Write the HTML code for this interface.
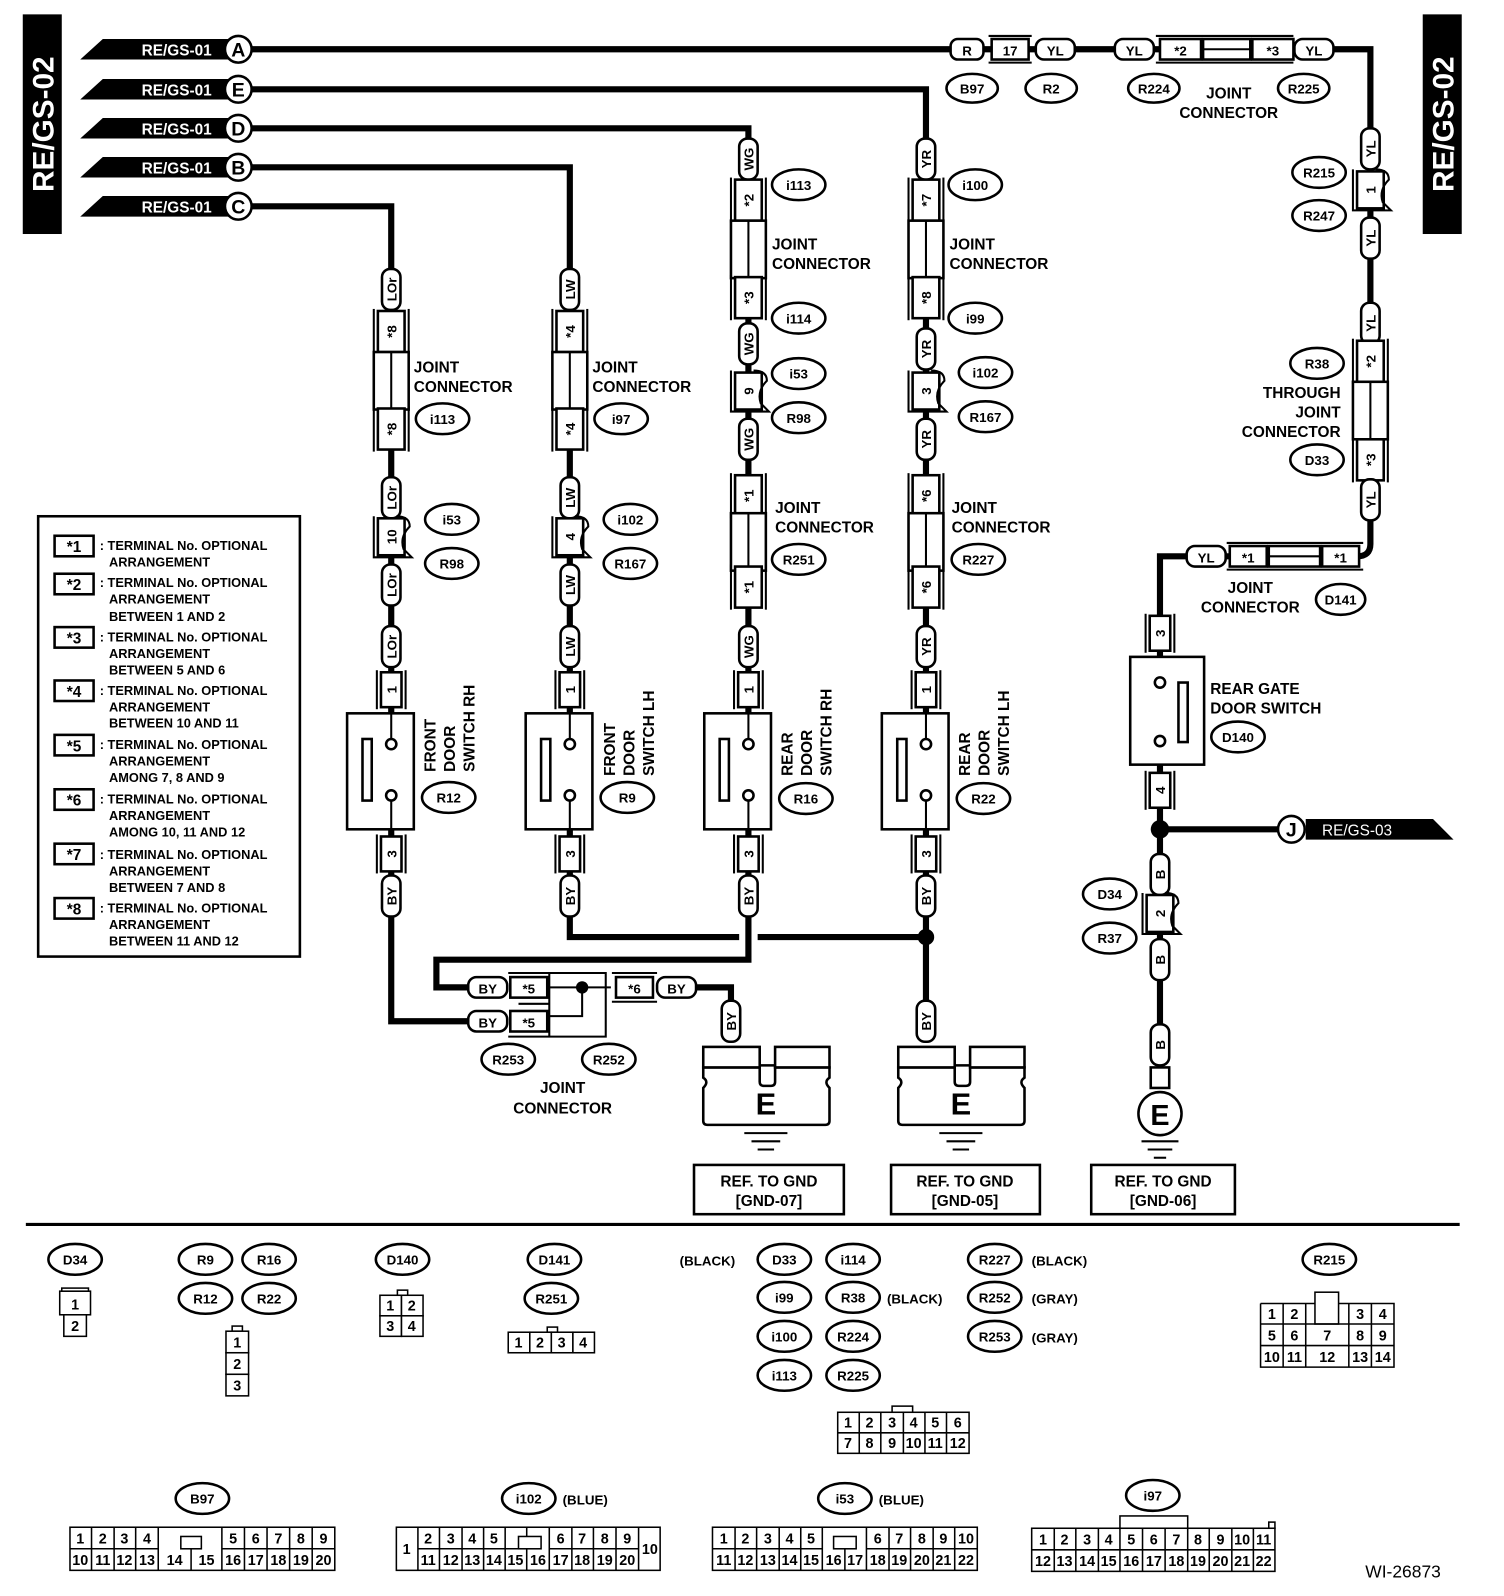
<!DOCTYPE html>
<html><head><meta charset="utf-8"><style>
html,body{margin:0;padding:0;background:#fff}
svg{display:block}
text{font-family:"Liberation Sans",sans-serif;font-weight:bold;fill:#000}
.w{stroke:#000;stroke-width:6;fill:none}
.b{stroke:#000;stroke-width:2.5;fill:#fff}
.t{stroke:#000;stroke-width:2;fill:none}
.l{font-size:15px}
.s{font-size:13px}
.m{text-anchor:middle}
.c{font-size:13px;font-weight:normal;text-anchor:middle}
</style></head><body>
<svg width="1504" height="1596" viewBox="0 0 1465 1555" xmlns="http://www.w3.org/2000/svg">
<defs>
<g id="pill"><rect x="-9" y="-20" width="18" height="40" rx="8" class="b"/></g>
<g id="hpill"><rect x="-19" y="-10" width="38" height="20" rx="8" class="b"/></g>
<g id="star"><rect x="-13" y="-20" width="26" height="40" class="b"/><line x1="-17" y1="-22" x2="-17" y2="22" class="t" stroke-width="3"/><line x1="17" y1="-22" x2="17" y2="22" class="t" stroke-width="3"/></g>
<g id="jbody"><rect x="-17" y="-28" width="34" height="56" class="b"/><line x1="0" y1="-28" x2="0" y2="28" class="t"/></g>
<g id="num"><rect x="-10" y="-17" width="20" height="34" class="b"/><line x1="-14" y1="-19" x2="-14" y2="19" class="t" stroke-width="3"/><line x1="14" y1="-19" x2="14" y2="19" class="t" stroke-width="3"/></g>
<g id="wavy"><rect x="-13" y="-18" width="26" height="36" class="b"/><path d="M-17,-20 V20 H20 L12,12 Q8,0 18,-10 Q18,-20 5,-20" class="t" stroke-width="3"/></g>
<g id="sw"><rect x="-43" y="0" width="65" height="113" class="b"/><rect x="-28" y="25" width="9" height="60" class="b" stroke-width="2"/><circle cx="0" cy="30" r="5" class="b" stroke-width="2"/><circle cx="0" cy="80" r="5" class="b" stroke-width="2"/><line x1="0" y1="0" x2="0" y2="25" class="t"/><line x1="0" y1="85" x2="0" y2="113" class="t"/></g>
<g id="gnd"><path d="M0,20 V30 Q6,34 0,40 V72 Q0,76 4,76 H119 Q123,76 123,72 V40 Q117,34 123,30 V20 Z" class="b"/><path d="M55,18 V34 Q55,38 59,38 H66 Q70,38 70,34 V18 Z" fill="#fff" stroke="#000" stroke-width="2.5"/><rect x="0" y="0" width="55" height="20" class="b"/><rect x="70" y="0" width="53" height="20" class="b"/><text x="61" y="66" style="font-size:30px" class="m">E</text><line x1="40" y1="84" x2="82" y2="84" class="t" stroke-width="3"/><line x1="47" y1="92" x2="75" y2="92" class="t" stroke-width="3"/><line x1="53" y1="100" x2="69" y2="100" class="t" stroke-width="3"/></g>
<g id="flag"><polygon points="0,10 22,-10 145,-10 145,10" fill="#000"/></g>
</defs>

<rect x="22" y="14" width="38" height="214" fill="#000"/>
<text transform="translate(52,121) rotate(-90)" class="m" style="font-size:29px;fill:#fff">RE/GS-02</text>
<rect x="1386" y="14" width="38" height="214" fill="#000"/>
<text transform="translate(1416,121) rotate(-90)" class="m" style="font-size:29px;fill:#fff">RE/GS-02</text>

<path class="w" d="M245,48 H1335 V530 Q1335,542 1322,542 H1130 V1060"/>
<path class="w" d="M245,87 H902 V995"/>
<path class="w" d="M245,125 H729 V935 H425 V962 H455"/>
<path class="w" d="M245,163 H555 V913 H720 M738,913 H902"/>
<path class="w" d="M245,201 H381 V995 H455"/>
<path class="w" d="M678,962 H712 V1010"/>
<path class="w" d="M1130,808 H1258"/>
<circle cx="902" cy="913" r="8"/>
<circle cx="1130" cy="808" r="9"/>

<g transform="translate(78,48)"><use href="#flag"/></g>
<g transform="translate(78,87)"><use href="#flag"/></g>
<g transform="translate(78,125)"><use href="#flag"/></g>
<g transform="translate(78,163)"><use href="#flag"/></g>
<g transform="translate(78,201)"><use href="#flag"/></g>
<g class="l" style="font-size:15px;font-weight:normal">
<text x="172" y="54" class="m" style="fill:#fff">RE/GS-01</text>
<text x="172" y="93" class="m" style="fill:#fff">RE/GS-01</text>
<text x="172" y="131" class="m" style="fill:#fff">RE/GS-01</text>
<text x="172" y="169" class="m" style="fill:#fff">RE/GS-01</text>
<text x="172" y="207" class="m" style="fill:#fff">RE/GS-01</text>
</g>
<g>
<circle cx="232" cy="48" r="13" class="b" stroke-width="4"/><text x="232" y="55" class="m" style="font-size:19px">A</text>
<circle cx="232" cy="87" r="13" class="b" stroke-width="4"/><text x="232" y="94" class="m" style="font-size:19px">E</text>
<circle cx="232" cy="125" r="13" class="b" stroke-width="4"/><text x="232" y="132" class="m" style="font-size:19px">D</text>
<circle cx="232" cy="163" r="13" class="b" stroke-width="4"/><text x="232" y="170" class="m" style="font-size:19px">B</text>
<circle cx="232" cy="201" r="13" class="b" stroke-width="4"/><text x="232" y="208" class="m" style="font-size:19px">C</text>
</g>

<g transform="translate(942,48)"><rect x="-16" y="-10" width="32" height="20" rx="7" class="b"/></g><text x="942" y="54" class="s m">R</text>
<rect x="966" y="38" width="36" height="20" class="b"/><line x1="963" y1="35" x2="1005" y2="35" class="t" stroke-width="3"/><line x1="963" y1="61" x2="1005" y2="61" class="t" stroke-width="3"/><text x="984" y="54" class="s m">17</text>
<g transform="translate(1028,48)"><use href="#hpill"/></g><text x="1028" y="54" class="s m">YL</text>
<g transform="translate(1105,48)"><use href="#hpill"/></g><text x="1105" y="54" class="s m">YL</text>
<rect x="1130" y="38" width="40" height="20" class="b"/><line x1="1126" y1="35" x2="1260" y2="35" class="t" stroke-width="3"/><line x1="1126" y1="61" x2="1260" y2="61" class="t" stroke-width="3"/><rect x="1172" y="38" width="46" height="20" class="b"/><line x1="1172" y1="48" x2="1218" y2="48" class="t"/><text x="1150" y="54" class="s m">*2</text>
<rect x="1220" y="38" width="40" height="20" class="b"/><text x="1240" y="54" class="s m">*3</text>
<g transform="translate(1280,48)"><use href="#hpill"/></g><text x="1280" y="54" class="s m">YL</text>
<ellipse cx="947" cy="86" rx="25" ry="14" class="b"/><text x="947" y="91" class="s m">B97</text>
<ellipse cx="1024" cy="86" rx="25" ry="14" class="b"/><text x="1024" y="91" class="s m">R2</text>
<ellipse cx="1124" cy="86" rx="25" ry="14" class="b"/><text x="1124" y="91" class="s m">R224</text>
<ellipse cx="1270" cy="86" rx="25" ry="14" class="b"/><text x="1270" y="91" class="s m">R225</text>
<text x="1197" y="96" class="l m">JOINT</text><text x="1197" y="115" class="l m">CONNECTOR</text>

<g transform="translate(381,0)">
<use href="#pill" y="282"/><use href="#star" y="323"/><use href="#jbody" y="371"/><use href="#star" y="418"/>
<use href="#pill" y="485"/><use href="#wavy" y="523"/><use href="#pill" y="570"/><use href="#pill" y="630"/><use href="#num" y="672"/>
<use href="#sw" y="695"/><use href="#num" y="832"/><use href="#pill" y="873"/>
<g class="s m"><text transform="translate(5,282) rotate(-90)">LOr</text><text transform="translate(5,323) rotate(-90)">*8</text><text transform="translate(5,418) rotate(-90)">*8</text><text transform="translate(5,485) rotate(-90)">LOr</text><text transform="translate(5,523) rotate(-90)">10</text><text transform="translate(5,570) rotate(-90)">LOr</text><text transform="translate(5,630) rotate(-90)">LOr</text><text transform="translate(5,672) rotate(-90)">1</text><text transform="translate(5,832) rotate(-90)">3</text><text transform="translate(5,873) rotate(-90)">BY</text></g>
</g>
<text x="403" y="363" class="l">JOINT</text><text x="403" y="382" class="l">CONNECTOR</text>
<ellipse cx="431" cy="408" rx="26" ry="15" class="b"/><text x="431" y="413" class="s m">i113</text>
<ellipse cx="440" cy="506" rx="26" ry="15" class="b"/><text x="440" y="511" class="s m">i53</text>
<ellipse cx="440" cy="549" rx="26" ry="15" class="b"/><text x="440" y="554" class="s m">R98</text>
<text transform="translate(424,752) rotate(-90)" class="l">FRONT</text><text transform="translate(443,752) rotate(-90)" class="l">DOOR</text><text transform="translate(462,752) rotate(-90)" class="l">SWITCH RH</text>
<ellipse cx="437" cy="777" rx="26" ry="15" class="b"/><text x="437" y="782" class="s m">R12</text>

<g transform="translate(555,0)">
<use href="#pill" y="282"/><use href="#star" y="323"/><use href="#jbody" y="371"/><use href="#star" y="418"/>
<use href="#pill" y="485"/><use href="#wavy" y="523"/><use href="#pill" y="570"/><use href="#pill" y="630"/><use href="#num" y="672"/>
<use href="#sw" y="695"/><use href="#num" y="832"/><use href="#pill" y="873"/>
<g class="s m"><text transform="translate(5,282) rotate(-90)">LW</text><text transform="translate(5,323) rotate(-90)">*4</text><text transform="translate(5,418) rotate(-90)">*4</text><text transform="translate(5,485) rotate(-90)">LW</text><text transform="translate(5,523) rotate(-90)">4</text><text transform="translate(5,570) rotate(-90)">LW</text><text transform="translate(5,630) rotate(-90)">LW</text><text transform="translate(5,672) rotate(-90)">1</text><text transform="translate(5,832) rotate(-90)">3</text><text transform="translate(5,873) rotate(-90)">BY</text></g>
</g>
<text x="577" y="363" class="l">JOINT</text><text x="577" y="382" class="l">CONNECTOR</text>
<ellipse cx="605" cy="408" rx="26" ry="15" class="b"/><text x="605" y="413" class="s m">i97</text>
<ellipse cx="614" cy="506" rx="26" ry="15" class="b"/><text x="614" y="511" class="s m">i102</text>
<ellipse cx="614" cy="549" rx="26" ry="15" class="b"/><text x="614" y="554" class="s m">R167</text>
<text transform="translate(599,756) rotate(-90)" class="l">FRONT</text><text transform="translate(618,756) rotate(-90)" class="l">DOOR</text><text transform="translate(637,756) rotate(-90)" class="l">SWITCH LH</text>
<ellipse cx="611" cy="777" rx="26" ry="15" class="b"/><text x="611" y="782" class="s m">R9</text>

<g transform="translate(729,0)">
<use href="#pill" y="155"/><use href="#star" y="195"/><use href="#jbody" y="243"/><use href="#star" y="290"/>
<use href="#pill" y="335"/><use href="#wavy" y="381"/><use href="#pill" y="428"/>
<use href="#star" y="483"/><use href="#jbody" y="528"/><use href="#star" y="572"/>
<use href="#pill" y="630"/><use href="#num" y="672"/>
<use href="#sw" y="695"/><use href="#num" y="832"/><use href="#pill" y="873"/>
<g class="s m"><text transform="translate(5,155) rotate(-90)">WG</text><text transform="translate(5,195) rotate(-90)">*2</text><text transform="translate(5,290) rotate(-90)">*3</text><text transform="translate(5,335) rotate(-90)">WG</text><text transform="translate(5,381) rotate(-90)">9</text><text transform="translate(5,428) rotate(-90)">WG</text><text transform="translate(5,483) rotate(-90)">*1</text><text transform="translate(5,572) rotate(-90)">*1</text><text transform="translate(5,630) rotate(-90)">WG</text><text transform="translate(5,672) rotate(-90)">1</text><text transform="translate(5,832) rotate(-90)">3</text><text transform="translate(5,873) rotate(-90)">BY</text></g>
</g>
<ellipse cx="778" cy="180" rx="26" ry="15" class="b"/><text x="778" y="185" class="s m">i113</text>
<text x="752" y="243" class="l">JOINT</text><text x="752" y="262" class="l">CONNECTOR</text>
<ellipse cx="778" cy="310" rx="26" ry="15" class="b"/><text x="778" y="315" class="s m">i114</text>
<ellipse cx="778" cy="364" rx="26" ry="15" class="b"/><text x="778" y="369" class="s m">i53</text>
<ellipse cx="778" cy="407" rx="26" ry="15" class="b"/><text x="778" y="412" class="s m">R98</text>
<text x="755" y="500" class="l">JOINT</text><text x="755" y="519" class="l">CONNECTOR</text>
<ellipse cx="778" cy="545" rx="26" ry="15" class="b"/><text x="778" y="550" class="s m">R251</text>
<text transform="translate(772,756) rotate(-90)" class="l">REAR</text><text transform="translate(791,756) rotate(-90)" class="l">DOOR</text><text transform="translate(810,756) rotate(-90)" class="l">SWITCH RH</text>
<ellipse cx="785" cy="778" rx="26" ry="15" class="b"/><text x="785" y="783" class="s m">R16</text>

<g transform="translate(902,0)">
<use href="#pill" y="155"/><use href="#star" y="195"/><use href="#jbody" y="243"/><use href="#star" y="290"/>
<use href="#pill" y="340"/><use href="#wavy" y="381"/><use href="#pill" y="428"/>
<use href="#star" y="483"/><use href="#jbody" y="528"/><use href="#star" y="572"/>
<use href="#pill" y="630"/><use href="#num" y="672"/>
<use href="#sw" y="695"/><use href="#num" y="832"/><use href="#pill" y="873"/><use href="#pill" y="995"/>
<g class="s m"><text transform="translate(5,155) rotate(-90)">YR</text><text transform="translate(5,195) rotate(-90)">*7</text><text transform="translate(5,290) rotate(-90)">*8</text><text transform="translate(5,340) rotate(-90)">YR</text><text transform="translate(5,381) rotate(-90)">3</text><text transform="translate(5,428) rotate(-90)">YR</text><text transform="translate(5,483) rotate(-90)">*6</text><text transform="translate(5,572) rotate(-90)">*6</text><text transform="translate(5,630) rotate(-90)">YR</text><text transform="translate(5,672) rotate(-90)">1</text><text transform="translate(5,832) rotate(-90)">3</text><text transform="translate(5,873) rotate(-90)">BY</text><text transform="translate(5,995) rotate(-90)">BY</text></g>
</g>
<ellipse cx="950" cy="180" rx="26" ry="15" class="b"/><text x="950" y="185" class="s m">i100</text>
<text x="925" y="243" class="l">JOINT</text><text x="925" y="262" class="l">CONNECTOR</text>
<ellipse cx="950" cy="310" rx="26" ry="15" class="b"/><text x="950" y="315" class="s m">i99</text>
<ellipse cx="960" cy="363" rx="26" ry="15" class="b"/><text x="960" y="368" class="s m">i102</text>
<ellipse cx="960" cy="406" rx="26" ry="15" class="b"/><text x="960" y="411" class="s m">R167</text>
<text x="927" y="500" class="l">JOINT</text><text x="927" y="519" class="l">CONNECTOR</text>
<ellipse cx="953" cy="545" rx="26" ry="15" class="b"/><text x="953" y="550" class="s m">R227</text>
<text transform="translate(945,756) rotate(-90)" class="l">REAR</text><text transform="translate(964,756) rotate(-90)" class="l">DOOR</text><text transform="translate(983,756) rotate(-90)" class="l">SWITCH LH</text>
<ellipse cx="958" cy="778" rx="26" ry="15" class="b"/><text x="958" y="783" class="s m">R22</text>

<line x1="505" y1="978" x2="535" y2="978" class="t"/>
<path d="M495,948 H590 V1010 H495 M535,948 V1010" class="t" stroke-width="2.5"/>
<path d="M535,962 H595 M567,962 V990 H535" class="t" stroke-width="2"/>
<circle cx="567" cy="962" r="6"/>
<g transform="translate(475,962)"><use href="#hpill"/></g><text x="475" y="968" class="s m">BY</text>
<g transform="translate(475,995)"><use href="#hpill"/></g><text x="475" y="1001" class="s m">BY</text>
<rect x="497" y="952" width="36" height="20" class="b"/><text x="515" y="968" class="s m">*5</text>
<rect x="497" y="985" width="36" height="20" class="b"/><text x="515" y="1001" class="s m">*5</text>
<rect x="600" y="952" width="36" height="20" class="b"/><path d="M596,948 H640 M596,976 H640" class="t" stroke-width="2.5"/><text x="618" y="968" class="s m">*6</text>
<g transform="translate(659,962)"><use href="#hpill"/></g><text x="659" y="968" class="s m">BY</text>
<g transform="translate(712,995)"><use href="#pill"/></g><text transform="translate(717,995) rotate(-90)" class="s m">BY</text>
<ellipse cx="495" cy="1032" rx="26" ry="15" class="b"/><text x="495" y="1037" class="s m">R253</text>
<ellipse cx="593" cy="1032" rx="26" ry="15" class="b"/><text x="593" y="1037" class="s m">R252</text>
<text x="548" y="1065" class="l m">JOINT</text><text x="548" y="1085" class="l m">CONNECTOR</text>

<g transform="translate(685,1020)"><use href="#gnd"/></g>
<g transform="translate(875,1020)"><use href="#gnd"/></g>
<rect x="676" y="1135" width="146" height="48" class="b" stroke-width="3"/><text x="749" y="1156" class="l m">REF. TO GND</text><text x="749" y="1175" class="l m">[GND-07]</text>
<rect x="868" y="1135" width="145" height="48" class="b" stroke-width="3"/><text x="940" y="1156" class="l m">REF. TO GND</text><text x="940" y="1175" class="l m">[GND-05]</text>
<rect x="1063" y="1135" width="140" height="48" class="b" stroke-width="3"/><text x="1133" y="1156" class="l m">REF. TO GND</text><text x="1133" y="1175" class="l m">[GND-06]</text>

<g transform="translate(1335,0)">
<use href="#pill" y="145"/><use href="#wavy" y="185"/><use href="#pill" y="232"/><use href="#pill" y="315"/>
<use href="#star" y="352"/><use href="#jbody" y="400"/><use href="#star" y="448"/><use href="#pill" y="487"/>
<g class="s m"><text transform="translate(5,145) rotate(-90)">YL</text><text transform="translate(5,185) rotate(-90)">1</text><text transform="translate(5,232) rotate(-90)">YL</text><text transform="translate(5,315) rotate(-90)">YL</text><text transform="translate(5,352) rotate(-90)">*2</text><text transform="translate(5,448) rotate(-90)">*3</text><text transform="translate(5,487) rotate(-90)">YL</text></g>
</g>
<ellipse cx="1285" cy="168" rx="26" ry="15" class="b"/><text x="1285" y="173" class="s m">R215</text>
<ellipse cx="1285" cy="210" rx="26" ry="15" class="b"/><text x="1285" y="215" class="s m">R247</text>
<ellipse cx="1283" cy="354" rx="26" ry="15" class="b"/><text x="1283" y="359" class="s m">R38</text>
<text x="1306" y="388" class="l" text-anchor="end">THROUGH</text><text x="1306" y="407" class="l" text-anchor="end">JOINT</text><text x="1306" y="426" class="l" text-anchor="end">CONNECTOR</text>
<ellipse cx="1283" cy="448" rx="26" ry="15" class="b"/><text x="1283" y="453" class="s m">D33</text>
<g transform="translate(1175,542)"><use href="#hpill"/></g><text x="1175" y="548" class="s m">YL</text>
<path d="M1195,529 H1328 M1195,555 H1328" class="t" stroke-width="3"/>
<rect x="1198" y="532" width="36" height="20" class="b"/><text x="1216" y="548" class="s m">*1</text>
<rect x="1236" y="532" width="50" height="20" class="b"/><line x1="1236" y1="542" x2="1286" y2="542" class="t"/>
<rect x="1288" y="532" width="36" height="20" class="b"/><text x="1306" y="548" class="s m">*1</text>
<text x="1218" y="578" class="l m">JOINT</text><text x="1218" y="597" class="l m">CONNECTOR</text>
<ellipse cx="1306" cy="584" rx="24" ry="15" class="b"/><text x="1306" y="589" class="s m">D141</text>
<g transform="translate(1130,0)">
<use href="#num" y="617"/>
<rect x="-29" y="640" width="72" height="105" class="b"/><rect x="18" y="665" width="9" height="58" class="b" stroke-width="2"/><circle cx="0" cy="665" r="5" class="b" stroke-width="2"/><circle cx="0" cy="722" r="5" class="b" stroke-width="2"/>
<use href="#num" y="770"/><use href="#pill" y="852"/><use href="#wavy" y="890"/><use href="#pill" y="935"/><use href="#pill" y="1018"/>
<rect x="-9" y="1040" width="18" height="20" class="b"/>
<g class="s m"><text transform="translate(5,617) rotate(-90)">3</text><text transform="translate(5,770) rotate(-90)">4</text><text transform="translate(5,852) rotate(-90)">B</text><text transform="translate(5,890) rotate(-90)">2</text><text transform="translate(5,935) rotate(-90)">B</text><text transform="translate(5,1018) rotate(-90)">B</text></g>
<circle cx="0" cy="1085" r="21" class="b" stroke-width="4"/><text x="0" y="1096" class="m" style="font-size:28px">E</text>
<line x1="-18" y1="1112" x2="18" y2="1112" class="t" stroke-width="3"/><line x1="-12" y1="1120" x2="12" y2="1120" class="t" stroke-width="3"/><line x1="-6" y1="1128" x2="6" y2="1128" class="t" stroke-width="3"/>
</g>
<text x="1179" y="676" class="l">REAR GATE</text><text x="1179" y="695" class="l">DOOR SWITCH</text>
<ellipse cx="1206" cy="718" rx="26" ry="15" class="b"/><text x="1206" y="723" class="s m">D140</text>
<ellipse cx="1081" cy="871" rx="26" ry="15" class="b"/><text x="1081" y="876" class="s m">D34</text>
<ellipse cx="1081" cy="914" rx="26" ry="15" class="b"/><text x="1081" y="919" class="s m">R37</text>
<circle cx="1258" cy="808" r="13" class="b" stroke-width="4"/><text x="1258" y="815" class="m" style="font-size:19px">J</text>
<polygon points="1272,798 1396,798 1416,818 1272,818" fill="#000"/>
<text x="1322" y="814" class="m" style="font-size:15px;font-weight:normal;fill:#fff">RE/GS-03</text>

<rect x="37" y="503" width="255" height="429" class="b" stroke-width="3"/>
<g class="s" style="font-size:12.5px">
<rect x="53" y="522" width="38" height="20" class="b" stroke-width="3.5"/><text x="72" y="538" class="m" style="font-size:15px">*1</text><text x="97" y="536">: TERMINAL No. OPTIONAL</text><text x="106" y="552">ARRANGEMENT</text>
<rect x="53" y="559" width="38" height="20" class="b" stroke-width="3.5"/><text x="72" y="575" class="m" style="font-size:15px">*2</text><text x="97" y="572">: TERMINAL No. OPTIONAL</text><text x="106" y="588">ARRANGEMENT</text><text x="106" y="605">BETWEEN 1 AND 2</text>
<rect x="53" y="611" width="38" height="20" class="b" stroke-width="3.5"/><text x="72" y="627" class="m" style="font-size:15px">*3</text><text x="97" y="625">: TERMINAL No. OPTIONAL</text><text x="106" y="641">ARRANGEMENT</text><text x="106" y="657">BETWEEN 5 AND 6</text>
<rect x="53" y="663" width="38" height="20" class="b" stroke-width="3.5"/><text x="72" y="679" class="m" style="font-size:15px">*4</text><text x="97" y="677">: TERMINAL No. OPTIONAL</text><text x="106" y="693">ARRANGEMENT</text><text x="106" y="709">BETWEEN 10 AND 11</text>
<rect x="53" y="716" width="38" height="20" class="b" stroke-width="3.5"/><text x="72" y="732" class="m" style="font-size:15px">*5</text><text x="97" y="730">: TERMINAL No. OPTIONAL</text><text x="106" y="746">ARRANGEMENT</text><text x="106" y="762">AMONG 7, 8 AND 9</text>
<rect x="53" y="769" width="38" height="20" class="b" stroke-width="3.5"/><text x="72" y="785" class="m" style="font-size:15px">*6</text><text x="97" y="783">: TERMINAL No. OPTIONAL</text><text x="106" y="799">ARRANGEMENT</text><text x="106" y="815">AMONG 10, 11 AND 12</text>
<rect x="53" y="822" width="38" height="20" class="b" stroke-width="3.5"/><text x="72" y="838" class="m" style="font-size:15px">*7</text><text x="97" y="837">: TERMINAL No. OPTIONAL</text><text x="106" y="853">ARRANGEMENT</text><text x="106" y="869">BETWEEN 7 AND 8</text>
<rect x="53" y="875" width="38" height="20" class="b" stroke-width="3.5"/><text x="72" y="891" class="m" style="font-size:15px">*8</text><text x="97" y="889">: TERMINAL No. OPTIONAL</text><text x="106" y="905">ARRANGEMENT</text><text x="106" y="921">BETWEEN 11 AND 12</text>
</g>

<line x1="25" y1="1193" x2="1422" y2="1193" stroke="#000" stroke-width="3"/>

<g class="s">
<ellipse cx="73" cy="1227" rx="26" ry="15" class="b"/><text x="73" y="1232" class="m">D34</text>
<ellipse cx="200" cy="1227" rx="26" ry="15" class="b"/><text x="200" y="1232" class="m">R9</text>
<ellipse cx="262" cy="1227" rx="26" ry="15" class="b"/><text x="262" y="1232" class="m">R16</text>
<ellipse cx="200" cy="1265" rx="26" ry="15" class="b"/><text x="200" y="1270" class="m">R12</text>
<ellipse cx="262" cy="1265" rx="26" ry="15" class="b"/><text x="262" y="1270" class="m">R22</text>
<ellipse cx="392" cy="1227" rx="26" ry="15" class="b"/><text x="392" y="1232" class="m">D140</text>
<ellipse cx="540" cy="1227" rx="26" ry="15" class="b"/><text x="540" y="1232" class="m">D141</text>
<ellipse cx="537" cy="1265" rx="26" ry="15" class="b"/><text x="537" y="1270" class="m">R251</text>
<text x="662" y="1233">(BLACK)</text>
<ellipse cx="764" cy="1227" rx="26" ry="15" class="b"/><text x="764" y="1232" class="m">D33</text>
<ellipse cx="831" cy="1227" rx="26" ry="15" class="b"/><text x="831" y="1232" class="m">i114</text>
<ellipse cx="764" cy="1264" rx="26" ry="15" class="b"/><text x="764" y="1269" class="m">i99</text>
<ellipse cx="831" cy="1264" rx="26" ry="15" class="b"/><text x="831" y="1269" class="m">R38</text><text x="864" y="1270">(BLACK)</text>
<ellipse cx="764" cy="1302" rx="26" ry="15" class="b"/><text x="764" y="1307" class="m">i100</text>
<ellipse cx="831" cy="1302" rx="26" ry="15" class="b"/><text x="831" y="1307" class="m">R224</text>
<ellipse cx="764" cy="1340" rx="26" ry="15" class="b"/><text x="764" y="1345" class="m">i113</text>
<ellipse cx="831" cy="1340" rx="26" ry="15" class="b"/><text x="831" y="1345" class="m">R225</text>
<ellipse cx="969" cy="1227" rx="26" ry="15" class="b"/><text x="969" y="1232" class="m">R227</text><text x="1005" y="1233">(BLACK)</text>
<ellipse cx="969" cy="1264" rx="26" ry="15" class="b"/><text x="969" y="1269" class="m">R252</text><text x="1005" y="1270">(GRAY)</text>
<ellipse cx="969" cy="1302" rx="26" ry="15" class="b"/><text x="969" y="1307" class="m">R253</text><text x="1005" y="1308">(GRAY)</text>
<ellipse cx="1295" cy="1227" rx="26" ry="15" class="b"/><text x="1295" y="1232" class="m">R215</text>
<ellipse cx="197" cy="1460" rx="26" ry="15" class="b"/><text x="197" y="1465" class="m">B97</text>
<ellipse cx="515" cy="1460" rx="26" ry="15" class="b"/><text x="515" y="1465" class="m">i102</text><text x="548" y="1466">(BLUE)</text>
<ellipse cx="823" cy="1460" rx="26" ry="15" class="b"/><text x="823" y="1465" class="m">i53</text><text x="856" y="1466">(BLUE)</text>
<ellipse cx="1123" cy="1457" rx="26" ry="15" class="b"/><text x="1123" y="1462" class="m">i97</text>
</g>
<text x="1330" y="1537" style="font-size:17px;font-weight:normal">WI-26873</text>

<g stroke="#000" stroke-width="1.5" fill="#fff">
<rect x="58" y="1258" width="30" height="23"/><rect x="62" y="1281" width="22" height="21"/><rect x="60" y="1255" width="26" height="3"/>
<rect x="226" y="1292" width="10" height="5"/><rect x="220" y="1297" width="22" height="21"/><rect x="220" y="1318" width="22" height="21"/><rect x="220" y="1339" width="22" height="21"/>
<rect x="387" y="1257" width="10" height="5"/><rect x="370" y="1262" width="21" height="20"/><rect x="391" y="1262" width="21" height="20"/><rect x="370" y="1282" width="21" height="20"/><rect x="391" y="1282" width="21" height="20"/>
<rect x="533" y="1293" width="10" height="5"/><rect x="495" y="1298" width="21" height="20"/><rect x="516" y="1298" width="21" height="20"/><rect x="537" y="1298" width="21" height="20"/><rect x="558" y="1298" width="21" height="20"/>
<rect x="869" y="1370" width="20" height="6"/>
<rect x="816" y="1376" width="128" height="40"/><path d="M816,1396 H944 M837,1376 V1416 M858,1376 V1416 M880,1376 V1416 M901,1376 V1416 M922,1376 V1416" fill="none"/>
<rect x="1281" y="1259" width="23" height="31"/>
<path d="M1228,1270 H1281 M1304,1270 H1358 V1332 H1228 V1270 M1228,1290 H1358 M1228,1311 H1358 M1250,1270 V1332 M1272,1270 V1332 M1314,1270 V1332 M1336,1270 V1332" fill="none"/>
<rect x="68" y="1488" width="258" height="42"/><path d="M68,1509 H154 M216,1509 H326 M89,1488 V1530 M111,1488 V1530 M132,1488 V1530 M154,1488 V1530 M186,1509 V1530 M216,1488 V1530 M238,1488 V1530 M260,1488 V1530 M282,1488 V1530 M304,1488 V1530" fill="none"/><rect x="176" y="1497" width="20" height="12"/>
<rect x="386" y="1488" width="257" height="42"/><path d="M407,1488 V1530 M407,1509 H513 M535,1509 H622 M428,1488 V1530 M450,1488 V1530 M471,1488 V1530 M492,1488 V1530 M513,1488 V1530 M535,1488 V1530 M557,1488 V1530 M578,1488 V1530 M600,1488 V1530 M622,1488 V1530" fill="none"/><rect x="505" y="1497" width="22" height="12"/>
<rect x="694" y="1488" width="258" height="42"/><path d="M694,1509 H801 M844,1509 H952 M716,1488 V1530 M737,1488 V1530 M759,1488 V1530 M780,1488 V1530 M801,1488 V1530 M823,1509 V1530 M844,1488 V1530 M866,1488 V1530 M887,1488 V1530 M909,1488 V1530 M930,1488 V1530" fill="none"/><rect x="812" y="1497" width="22" height="12"/>
<rect x="1091" y="1477" width="66" height="12"/><rect x="1236" y="1483" width="6" height="6"/>
<rect x="1005" y="1489" width="237" height="42"/><path d="M1005,1510 H1242 M1027,1489 V1531 M1048,1489 V1531 M1070,1489 V1531 M1091,1489 V1531 M1113,1489 V1531 M1135,1489 V1531 M1157,1489 V1531 M1178,1489 V1531 M1200,1489 V1531 M1221,1489 V1531" fill="none"/>
</g>
<g class="c" style="font-size:14px">
<text x="73" y="1276">1</text><text x="73" y="1297">2</text>
<text x="231" y="1313">1</text><text x="231" y="1334">2</text><text x="231" y="1355">3</text>
<text x="380" y="1277">1</text><text x="401" y="1277">2</text><text x="380" y="1297">3</text><text x="401" y="1297">4</text>
<text x="505" y="1313">1</text><text x="526" y="1313">2</text><text x="547" y="1313">3</text><text x="568" y="1313">4</text>
<text x="826" y="1391">1</text><text x="847" y="1391">2</text><text x="869" y="1391">3</text><text x="890" y="1391">4</text><text x="911" y="1391">5</text><text x="933" y="1391">6</text>
<text x="826" y="1411">7</text><text x="847" y="1411">8</text><text x="869" y="1411">9</text><text x="890" y="1411">10</text><text x="911" y="1411">11</text><text x="933" y="1411">12</text>
<text x="1239" y="1285">1</text><text x="1261" y="1285">2</text><text x="1325" y="1285">3</text><text x="1347" y="1285">4</text>
<text x="1239" y="1306">5</text><text x="1261" y="1306">6</text><text x="1293" y="1306">7</text><text x="1325" y="1306">8</text><text x="1347" y="1306">9</text>
<text x="1239" y="1327">10</text><text x="1261" y="1327">11</text><text x="1293" y="1327">12</text><text x="1325" y="1327">13</text><text x="1347" y="1327">14</text>
<text x="78" y="1504">1</text><text x="100" y="1504">2</text><text x="121" y="1504">3</text><text x="143" y="1504">4</text><text x="227" y="1504">5</text><text x="249" y="1504">6</text><text x="271" y="1504">7</text><text x="293" y="1504">8</text><text x="315" y="1504">9</text>
<text x="78" y="1525">10</text><text x="100" y="1525">11</text><text x="121" y="1525">12</text><text x="143" y="1525">13</text><text x="170" y="1525">14</text><text x="201" y="1525">15</text><text x="227" y="1525">16</text><text x="249" y="1525">17</text><text x="271" y="1525">18</text><text x="293" y="1525">19</text><text x="315" y="1525">20</text>
<text x="396" y="1514">1</text><text x="417" y="1504">2</text><text x="439" y="1504">3</text><text x="460" y="1504">4</text><text x="481" y="1504">5</text><text x="546" y="1504">6</text><text x="567" y="1504">7</text><text x="589" y="1504">8</text><text x="611" y="1504">9</text><text x="633" y="1514">10</text>
<text x="417" y="1525">11</text><text x="439" y="1525">12</text><text x="460" y="1525">13</text><text x="481" y="1525">14</text><text x="502" y="1525">15</text><text x="524" y="1525">16</text><text x="546" y="1525">17</text><text x="567" y="1525">18</text><text x="589" y="1525">19</text><text x="611" y="1525">20</text>
<text x="705" y="1504">1</text><text x="726" y="1504">2</text><text x="748" y="1504">3</text><text x="769" y="1504">4</text><text x="790" y="1504">5</text><text x="855" y="1504">6</text><text x="876" y="1504">7</text><text x="898" y="1504">8</text><text x="919" y="1504">9</text><text x="941" y="1504">10</text>
<text x="705" y="1525">11</text><text x="726" y="1525">12</text><text x="748" y="1525">13</text><text x="769" y="1525">14</text><text x="790" y="1525">15</text><text x="812" y="1525">16</text><text x="833" y="1525">17</text><text x="855" y="1525">18</text><text x="876" y="1525">19</text><text x="898" y="1525">20</text><text x="919" y="1525">21</text><text x="941" y="1525">22</text>
<text x="1016" y="1505">1</text><text x="1037" y="1505">2</text><text x="1059" y="1505">3</text><text x="1080" y="1505">4</text><text x="1102" y="1505">5</text><text x="1124" y="1505">6</text><text x="1146" y="1505">7</text><text x="1167" y="1505">8</text><text x="1189" y="1505">9</text><text x="1210" y="1505">10</text><text x="1231" y="1505">11</text>
<text x="1016" y="1526">12</text><text x="1037" y="1526">13</text><text x="1059" y="1526">14</text><text x="1080" y="1526">15</text><text x="1102" y="1526">16</text><text x="1124" y="1526">17</text><text x="1146" y="1526">18</text><text x="1167" y="1526">19</text><text x="1189" y="1526">20</text><text x="1210" y="1526">21</text><text x="1231" y="1526">22</text>
</g>
</svg>
</body></html>
